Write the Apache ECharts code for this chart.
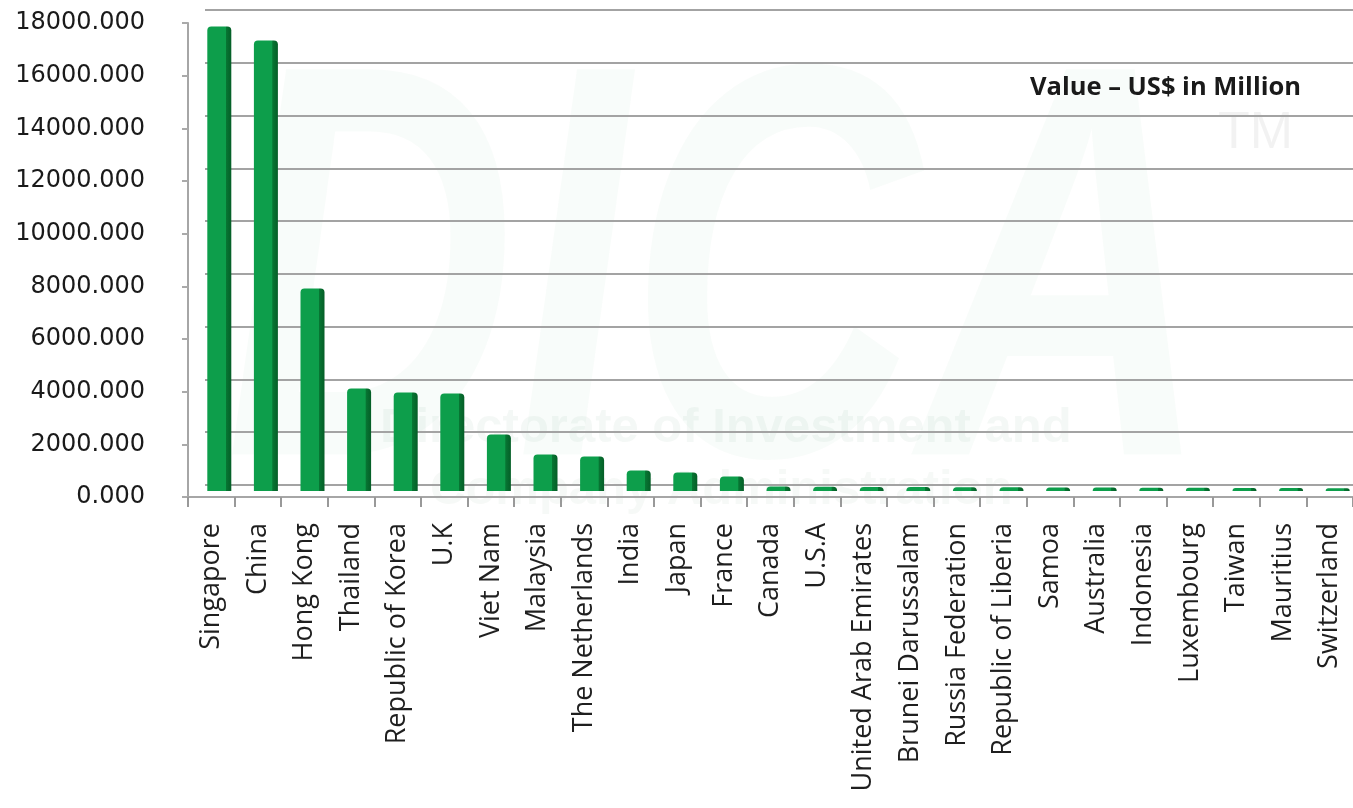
<!DOCTYPE html>
<html>
<head>
<meta charset="utf-8">
<script src="https://cdn.jsdelivr.net/npm/echarts@6/dist/echarts.min.js"></script>
<style>
html,body{margin:0;padding:0;background:#fff;}
#c{width:1353px;height:808px;}
</style>
</head>
<body>
<div id="c"></div>
<script>
var countries = ["Singapore","China","Hong Kong","Thailand","Republic of Korea","U.K","Viet Nam","Malaysia","The Netherlands","India","Japan","France","Canada","U.S.A","United Arab Emirates","Brunei Darussalam","Russia Federation","Republic of Liberia","Samoa","Australia","Indonesia","Luxembourg","Taiwan","Mauritius","Switzerland"];
var values = [17640,17110,7690,3890,3740,3700,2150,1390,1310,780,700,550,170,160,155,150,145,140,135,130,125,120,115,110,100];
var yTicks = {min:0, max:18000, interval:2000};
var unitLabel = "Value \u2013 US$ in Million";

var chart = echarts.init(document.getElementById('c'));
var barColor = new echarts.graphic.LinearGradient(0,0,1,0,[
  {offset:0,color:'#0d9e4b'},
  {offset:0.76,color:'#0d9e4b'},
  {offset:0.78,color:'#077633'},
  {offset:1,color:'#055e27'}
]);
chart.setOption({
  backgroundColor:'#ffffff',
  animation:false,
  graphic:[
    {type:'text', z:-10, left:225, top:20, style:{text:'DICA', font:'italic bold 560px "Liberation Sans"', fill:'rgba(0,140,60,0.028)'}, scaleX:0.72},
    {type:'text', z:-10, left:1218, top:108, style:{text:'TM', font:'52px "Liberation Sans"', fill:'rgba(0,0,0,0.05)'}},
    {type:'text', z:-10, left:380, top:404, style:{text:'Directorate of Investment and', font:'bold 49px "Liberation Sans"', fill:'rgba(0,90,40,0.045)'}},
    {type:'text', z:-10, left:430, top:466, style:{text:'Company Administration', font:'bold 49px "Liberation Sans"', fill:'rgba(0,90,40,0.035)'}},
    {type:'text', left:1030, top:75, style:{text:unitLabel, font:'bold 25.5px "Open Sans"', fill:'#1a1a1a'}}
  ],
  grid:[
    {left:205, top:10, width:1148, height:475, outerBoundsMode:'none'},
    {left:188, top:23, width:1165, height:474, outerBoundsMode:'none'},
    {left:196, top:17, width:1165, height:474, outerBoundsMode:'none'}
  ],
  xAxis:[
    {gridIndex:0, type:'category', data:countries, show:false},
    {gridIndex:1, type:'category', data:countries,
      axisLine:{show:true, lineStyle:{color:'#a6a6a6', width:2}},
      axisTick:{show:true, interval:0, length:10, lineStyle:{color:'#999', width:2}},
      axisLabel:{interval:0, rotate:90, margin:26, fontFamily:'"Open Sans"', fontSize:27, color:'#1f1f1f'},
      splitLine:{show:false}},
    {gridIndex:2, type:'category', data:countries, show:false}
  ],
  yAxis:[
    {gridIndex:0, type:'value', min:yTicks.min, max:yTicks.max, interval:yTicks.interval,
      axisLabel:{show:false}, axisLine:{show:false}, axisTick:{show:false},
      splitLine:{show:true, lineStyle:{color:'#a3a3a3', width:2}}},
    {gridIndex:1, type:'value', min:yTicks.min, max:yTicks.max, interval:yTicks.interval,
      axisLine:{show:true, lineStyle:{color:'#a6a6a6', width:2}},
      axisTick:{show:true, length:6, lineStyle:{color:'#aaa', width:2}},
      splitLine:{show:false},
      axisLabel:{margin:43, align:'right', fontFamily:'"DejaVu Sans"', fontSize:24, color:'#1a1a1a',
        formatter:function(v){return v.toFixed(3);}}},
    {gridIndex:2, type:'value', min:yTicks.min, max:yTicks.max, show:false, splitLine:{show:false}}
  ],
  series:[
    {type:'bar', xAxisIndex:2, yAxisIndex:2, data:values, barWidth:24,
      itemStyle:{color:barColor, borderRadius:[4,4,0,0]}}
  ]
});
</script>
</body>
</html>
